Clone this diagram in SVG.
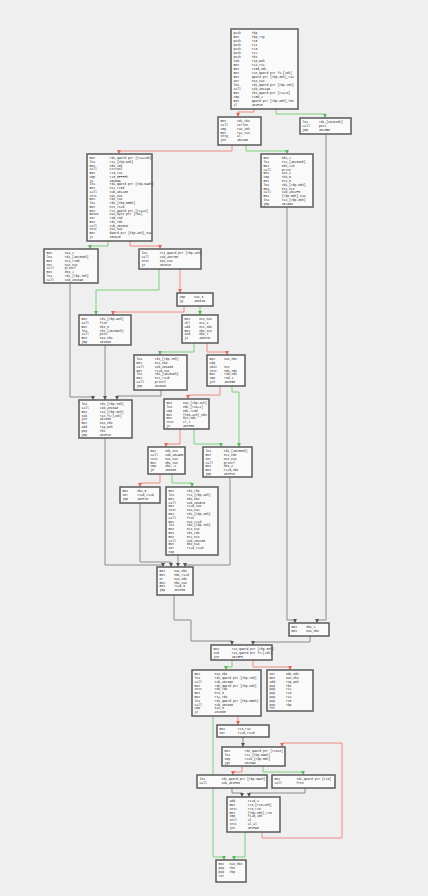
<svg xmlns="http://www.w3.org/2000/svg" width="428" height="896" viewBox="0 0 428 896">
<style>
.bg{fill:#efefef}
.b{fill:#fafafa;stroke:#5a5a5a;stroke-width:1.5}
.c{font-family:"Liberation Mono","DejaVu Sans Mono",monospace;font-size:3.05px;fill:#262626}
.e{fill:none;stroke-width:1}
.g{stroke:#7ccf7c}
.r{stroke:#f08a80}
.k{stroke:#8a8a8a}
</style>
<defs>
<marker id="ag" markerWidth="4" markerHeight="4" refX="4" refY="2" orient="auto" markerUnits="userSpaceOnUse"><path d="M0,0L4,2L0,4z" fill="#5fb85f"/></marker>
<marker id="ar" markerWidth="4" markerHeight="4" refX="4" refY="2" orient="auto" markerUnits="userSpaceOnUse"><path d="M0,0L4,2L0,4z" fill="#e06a60"/></marker>
<marker id="ak" markerWidth="4" markerHeight="4" refX="4" refY="2" orient="auto" markerUnits="userSpaceOnUse"><path d="M0,0L4,2L0,4z" fill="#555"/></marker>
</defs>
<rect class="bg" x="0" y="0" width="428" height="896"/>
<g id="edges">
<polyline class="e r" marker-end="url(#ar)" points="254,109 254,112 238,112 238,117"/>
<polyline class="e g" marker-end="url(#ag)" points="276,109 276,114 325,114 325,118"/>
<polyline class="e r" marker-end="url(#ar)" points="232,145 232,151 119,151 119,154"/>
<polyline class="e g" marker-end="url(#ag)" points="246,145 246,151 287,151 287,154"/>
<polyline class="e g" marker-end="url(#ag)" points="108,241 108,246 90,246 90,249"/>
<polyline class="e r" marker-end="url(#ar)" points="130,241 130,246 160,246 160,249"/>
<polyline class="e g" marker-end="url(#ag)" points="159,269 159,290 96,290 96,315"/>
<polyline class="e r" marker-end="url(#ar)" points="180,269 180,293"/>
<polyline class="e r" marker-end="url(#ar)" points="184,306 184,312 113,312 113,315"/>
<polyline class="e g" marker-end="url(#ag)" points="200,306 200,315"/>
<polyline class="e k" marker-end="url(#ak)" points="70,283 70,397 93,397 93,400"/>
<polyline class="e k" marker-end="url(#ak)" points="105,345 105,400"/>
<polyline class="e k" marker-end="url(#ak)" points="161,390 161,396 117,396 117,400"/>
<polyline class="e g" marker-end="url(#ag)" points="194,343 194,352 160,352 160,355"/>
<polyline class="e r" marker-end="url(#ar)" points="207,343 207,352 227,352 227,355"/>
<polyline class="e r" marker-end="url(#ar)" points="220,386 220,395 188,395 188,399"/>
<polyline class="e g" marker-end="url(#ag)" points="232,386 232,392 239,392 239,447"/>
<polyline class="e r" marker-end="url(#ar)" points="180,429 180,444 166,444 166,447"/>
<polyline class="e g" marker-end="url(#ag)" points="194,429 194,444 221,444 221,447"/>
<polyline class="e r" marker-end="url(#ar)" points="160,474 160,483 140,483 140,487"/>
<polyline class="e g" marker-end="url(#ag)" points="172,474 172,483 192,483 192,487"/>
<polyline class="e k" marker-end="url(#ak)" points="105,438 105,565 163,565 163,567"/>
<polyline class="e k" marker-end="url(#ak)" points="140,503 140,562 171,562 171,567"/>
<polyline class="e k" marker-end="url(#ak)" points="178,555 178,567"/>
<polyline class="e k" marker-end="url(#ak)" points="230,477 230,565 185,565 185,567"/>
<polyline class="e k" marker-end="url(#ak)" points="174,595 174,620 191,620 191,641 232,641 232,645"/>
<polyline class="e k" marker-end="url(#ak)" points="287,207 287,620 295,620 295,623"/>
<polyline class="e k" marker-end="url(#ak)" points="326,134 326,620 317,620 317,623"/>
<polyline class="e k" marker-end="url(#ak)" points="310,636 310,642 253,642 253,645"/>
<polyline class="e g" marker-end="url(#ag)" points="232,660 232,667 226,667 226,670"/>
<polyline class="e r" marker-end="url(#ar)" points="253,660 253,667 290,667 290,670"/>
<polyline class="e g" marker-end="url(#ag)" points="213,716 213,857 224,857 224,860"/>
<polyline class="e r" marker-end="url(#ar)" points="238,716 238,725"/>
<polyline class="e k" marker-end="url(#ak)" points="243,737 243,747"/>
<polyline class="e r" marker-end="url(#ar)" points="262,832 262,838 342,838 342,743 282,743 282,747"/>
<polyline class="e r" marker-end="url(#ar)" points="242,766 242,772 233,772 233,775"/>
<polyline class="e g" marker-end="url(#ag)" points="263,766 263,772 303,772 303,775"/>
<polyline class="e k" marker-end="url(#ak)" points="232,788 232,793 242,793 242,797"/>
<polyline class="e k" marker-end="url(#ak)" points="305,788 305,793 249,793 249,797"/>
<polyline class="e g" marker-end="url(#ag)" points="245,832 245,857 234,857 234,860"/>
</g>
<g id="n1"><rect class="b" x="231" y="29" width="67" height="80"/><text class="c" xml:space="preserve" y="34.2"><tspan x="233.5">push      rbp</tspan><tspan x="233.5" dy="4">mov       rbp,rsp</tspan><tspan x="233.5" dy="4">push      r15</tspan><tspan x="233.5" dy="4">push      r14</tspan><tspan x="233.5" dy="4">push      r13</tspan><tspan x="233.5" dy="4">push      r12</tspan><tspan x="233.5" dy="4">push      rbx</tspan><tspan x="233.5" dy="4">sub       rsp,98h</tspan><tspan x="233.5" dy="4">mov       r14,rsi</tspan><tspan x="233.5" dy="4">mov       r15d,edi</tspan><tspan x="233.5" dy="4">mov       rax,qword ptr fs:[28h]</tspan><tspan x="233.5" dy="4">mov       qword ptr [rbp-38h],rax</tspan><tspan x="233.5" dy="4">xor       eax,eax</tspan><tspan x="233.5" dy="4">lea       rdi,qword ptr [rbp-70h]</tspan><tspan x="233.5" dy="4">call      sub_4012A0</tspan><tspan x="233.5" dy="4">mov       rbx,qword ptr [r14+8]</tspan><tspan x="233.5" dy="4">cmp       r15d,2</tspan><tspan x="233.5" dy="4">mov       qword ptr [rbp-80h],rbx</tspan><tspan x="233.5" dy="4">jl        401F2E</tspan></text></g>
<g id="n2"><rect class="b" x="300" y="118" width="51" height="16"/><text class="c" xml:space="preserve" y="123.2"><tspan x="302.5">lea      rdi,[402010h]</tspan><tspan x="302.5" dy="3.8">call     puts</tspan><tspan x="302.5" dy="3.8">jmp      4023B0</tspan></text></g>
<g id="n3"><rect class="b" x="218" y="117" width="43" height="28"/><text class="c" xml:space="preserve" y="122.2"><tspan x="220.5">mov      rdi,rbx</tspan><tspan x="220.5" dy="3.8">call     strlen</tspan><tspan x="220.5" dy="3.8">cmp      rax,10h</tspan><tspan x="220.5" dy="3.8">mov      r12,rax</tspan><tspan x="220.5" dy="3.8">setg     al</tspan><tspan x="220.5" dy="3.8">jne      401C90</tspan></text></g>
<g id="n4"><rect class="b" x="87" y="154" width="65" height="87"/><text class="c" xml:space="preserve" y="159.2"><tspan x="89.5">mov        rdi,qword ptr [r14+10h]</tspan><tspan x="89.5" dy="3.75">lea        rsi,[rbp-90h]</tspan><tspan x="89.5" dy="3.75">mov        edx,10h</tspan><tspan x="89.5" dy="3.75">call       strtoul</tspan><tspan x="89.5" dy="3.75">mov        r13,rax</tspan><tspan x="89.5" dy="3.75">cmp        r13,0FFFFh</tspan><tspan x="89.5" dy="3.75">ja         401D5A</tspan><tspan x="89.5" dy="3.75">lea        rdi,qword ptr [rbp-0A0h]</tspan><tspan x="89.5" dy="3.75">mov        esi,r13d</tspan><tspan x="89.5" dy="3.75">call       sub_401480</tspan><tspan x="89.5" dy="3.75">test       eax,eax</tspan><tspan x="89.5" dy="3.75">mov        rbx,rax</tspan><tspan x="89.5" dy="3.75">lea        rdx,[rbp-0B0h]</tspan><tspan x="89.5" dy="3.75">mov        ecx,r12d</tspan><tspan x="89.5" dy="3.75">mov        rsi,qword ptr [r14+8]</tspan><tspan x="89.5" dy="3.75">movzx      eax,byte ptr [rbx]</tspan><tspan x="89.5" dy="3.75">xor        r8d,r8d</tspan><tspan x="89.5" dy="3.75">mov        rdi,rdx</tspan><tspan x="89.5" dy="3.75">call       sub_4015C0</tspan><tspan x="89.5" dy="3.75">test       eax,eax</tspan><tspan x="89.5" dy="3.75">mov        dword ptr [rbp-48h],eax</tspan><tspan x="89.5" dy="3.75">js         401D20</tspan></text></g>
<g id="n5"><rect class="b" x="261" y="154" width="52" height="53"/><text class="c" xml:space="preserve" y="159.2"><tspan x="263.5">mov       edi,2</tspan><tspan x="263.5" dy="3.8">lea       rsi,[402040h]</tspan><tspan x="263.5" dy="3.8">mov       edx,21h</tspan><tspan x="263.5" dy="3.8">call      write</tspan><tspan x="263.5" dy="3.8">mov       eax,1</tspan><tspan x="263.5" dy="3.8">cmp       rbx,0</tspan><tspan x="263.5" dy="3.8">mov       ecx,0</tspan><tspan x="263.5" dy="3.8">lea       rdi,[rbp-60h]</tspan><tspan x="263.5" dy="3.8">mov       esi,ecx</tspan><tspan x="263.5" dy="3.8">call      sub_4012F0</tspan><tspan x="263.5" dy="3.8">mov       [rbp-50h],eax</tspan><tspan x="263.5" dy="3.8">lea       rax,[rbp-60h]</tspan><tspan x="263.5" dy="3.8">jmp       402390</tspan></text></g>
<g id="n6"><rect class="b" x="44" y="249" width="54" height="34"/><text class="c" xml:space="preserve" y="254.2"><tspan x="46.5">mov       eax,1</tspan><tspan x="46.5" dy="3.8">lea       rdi,[402080h]</tspan><tspan x="46.5" dy="3.8">mov       esi,r13d</tspan><tspan x="46.5" dy="3.8">xor       eax,eax</tspan><tspan x="46.5" dy="3.8">call      printf</tspan><tspan x="46.5" dy="3.8">mov       ebx,2</tspan><tspan x="46.5" dy="3.8">lea       rdi,[rbp-70h]</tspan><tspan x="46.5" dy="3.8">call      sub_4013A0</tspan></text></g>
<g id="n7"><rect class="b" x="139" y="249" width="62" height="20"/><text class="c" xml:space="preserve" y="254.2"><tspan x="141.5">lea       rsi,qword ptr [rbp-48h]</tspan><tspan x="141.5" dy="3.8">call      sub_401700</tspan><tspan x="141.5" dy="3.8">test      eax,eax</tspan><tspan x="141.5" dy="3.8">jz        401E10</tspan></text></g>
<g id="n8"><rect class="b" x="177" y="293" width="36" height="13"/><text class="c" xml:space="preserve" y="298.2"><tspan x="179.5">cmp     eax,3</tspan><tspan x="179.5" dy="3.8">jg      401E40</tspan></text></g>
<g id="n9"><rect class="b" x="79" y="315" width="52" height="30"/><text class="c" xml:space="preserve" y="320.2"><tspan x="81.5">mov       rdi,[rbp-98h]</tspan><tspan x="81.5" dy="3.8">call      free</tspan><tspan x="81.5" dy="3.8">mov       ebx,3</tspan><tspan x="81.5" dy="3.8">lea       rdi,[402098h]</tspan><tspan x="81.5" dy="3.8">call      puts</tspan><tspan x="81.5" dy="3.8">mov       eax,ebx</tspan><tspan x="81.5" dy="3.8">jmp       401E90</tspan></text></g>
<g id="n10"><rect class="b" x="182" y="315" width="36" height="28"/><text class="c" xml:space="preserve" y="320.2"><tspan x="184.5">mov     ecx,eax</tspan><tspan x="184.5" dy="3.8">shl     ecx,4</tspan><tspan x="184.5" dy="3.8">add     ecx,edx</tspan><tspan x="184.5" dy="3.8">mov     ebx,ecx</tspan><tspan x="184.5" dy="3.8">and     ebx,7</tspan><tspan x="184.5" dy="3.8">jz      401E70</tspan></text></g>
<g id="n11"><rect class="b" x="134" y="355" width="53" height="35"/><text class="c" xml:space="preserve" y="360.2"><tspan x="136.5">lea       rdi,[rbp-70h]</tspan><tspan x="136.5" dy="3.8">mov       esi,ebx</tspan><tspan x="136.5" dy="3.8">call      sub_401900</tspan><tspan x="136.5" dy="3.8">mov       r12d,eax</tspan><tspan x="136.5" dy="3.8">lea       rdi,[4020C0h]</tspan><tspan x="136.5" dy="3.8">mov       esi,r12d</tspan><tspan x="136.5" dy="3.8">call      printf</tspan><tspan x="136.5" dy="3.8">jmp       401E90</tspan></text></g>
<g id="n12"><rect class="b" x="207" y="355" width="38" height="31"/><text class="c" xml:space="preserve" y="360.2"><tspan x="209.5">mov     eax,ebx</tspan><tspan x="209.5" dy="3.8">cdq</tspan><tspan x="209.5" dy="3.8">idiv    ecx</tspan><tspan x="209.5" dy="3.8">test    edx,edx</tspan><tspan x="209.5" dy="3.8">mov     r8d,edx</tspan><tspan x="209.5" dy="3.8">cmp     r8d,1</tspan><tspan x="209.5" dy="3.8">jne     401EB0</tspan></text></g>
<g id="n13"><rect class="b" x="79" y="400" width="53" height="38"/><text class="c" xml:space="preserve" y="405.2"><tspan x="81.5">lea       rdi,[rbp-70h]</tspan><tspan x="81.5" dy="3.8">call      sub_4013A0</tspan><tspan x="81.5" dy="3.8">mov       rax,[rbp-38h]</tspan><tspan x="81.5" dy="3.8">sub       rax,fs:[28h]</tspan><tspan x="81.5" dy="3.8">jne       402400</tspan><tspan x="81.5" dy="3.8">mov       eax,ebx</tspan><tspan x="81.5" dy="3.8">add       rsp,98h</tspan><tspan x="81.5" dy="3.8">pop       rbx</tspan><tspan x="81.5" dy="3.8">jmp       401F10</tspan></text></g>
<g id="n14"><rect class="b" x="164" y="399" width="45" height="30"/><text class="c" xml:space="preserve" y="404.2"><tspan x="166.5">mov      eax,[rbp-4Ch]</tspan><tspan x="166.5" dy="3.8">lea      edx,[rax+1]</tspan><tspan x="166.5" dy="3.8">cmp      edx,r13d</tspan><tspan x="166.5" dy="3.8">mov      [rbp-4Ch],edx</tspan><tspan x="166.5" dy="3.8">mov      ecx,edx</tspan><tspan x="166.5" dy="3.8">test     cl,1</tspan><tspan x="166.5" dy="3.8">jz       401F00</tspan></text></g>
<g id="n15"><rect class="b" x="148" y="447" width="37" height="27"/><text class="c" xml:space="preserve" y="452.2"><tspan x="150.5">mov     edi,ecx</tspan><tspan x="150.5" dy="3.8">call    sub_401A00</tspan><tspan x="150.5" dy="3.8">test    eax,eax</tspan><tspan x="150.5" dy="3.8">mov     ebx,eax</tspan><tspan x="150.5" dy="3.8">cmp     ebx,-1</tspan><tspan x="150.5" dy="3.8">je      401EE0</tspan></text></g>
<g id="n16"><rect class="b" x="203" y="447" width="49" height="30"/><text class="c" xml:space="preserve" y="452.2"><tspan x="205.5">lea       rdi,[4020E0h]</tspan><tspan x="205.5" dy="3.8">mov       esi,edx</tspan><tspan x="205.5" dy="3.8">xor       eax,eax</tspan><tspan x="205.5" dy="3.8">call      printf</tspan><tspan x="205.5" dy="3.8">mov       ebx,4</tspan><tspan x="205.5" dy="3.8">mov       r12d,ebx</tspan><tspan x="205.5" dy="3.8">jmp       401F10</tspan></text></g>
<g id="n17"><rect class="b" x="120" y="487" width="40" height="16"/><text class="c" xml:space="preserve" y="492.2"><tspan x="122.5">mov     ebx,5</tspan><tspan x="122.5" dy="3.8">xor     r12d,r12d</tspan><tspan x="122.5" dy="3.8">jmp     401F10</tspan></text></g>
<g id="n18"><rect class="b" x="166" y="487" width="52" height="68"/><text class="c" xml:space="preserve" y="492.2"><tspan x="168.5">mov       rdi,rbx</tspan><tspan x="168.5" dy="3.8">lea       rsi,[rbp-40h]</tspan><tspan x="168.5" dy="3.8">mov       edx,ebx</tspan><tspan x="168.5" dy="3.8">call      sub_401B20</tspan><tspan x="168.5" dy="3.8">mov       r12d,eax</tspan><tspan x="168.5" dy="3.8">test      eax,eax</tspan><tspan x="168.5" dy="3.8">mov       rdi,[rbp-40h]</tspan><tspan x="168.5" dy="3.8">call      free</tspan><tspan x="168.5" dy="3.8">mov       eax,r12d</tspan><tspan x="168.5" dy="3.8">lea       rdx,[rbp-70h]</tspan><tspan x="168.5" dy="3.8">mov       ecx,eax</tspan><tspan x="168.5" dy="3.8">mov       rdi,rdx</tspan><tspan x="168.5" dy="3.8">mov       esi,ecx</tspan><tspan x="168.5" dy="3.8">call      sub_401C00</tspan><tspan x="168.5" dy="3.8">mov       ebx,eax</tspan><tspan x="168.5" dy="3.8">xor       r12d,r12d</tspan><tspan x="168.5" dy="3.8">nop</tspan></text></g>
<g id="n19"><rect class="b" x="157" y="567" width="36" height="28"/><text class="c" xml:space="preserve" y="572.2"><tspan x="159.5">mov     eax,ebx</tspan><tspan x="159.5" dy="3.8">mov     edx,r12d</tspan><tspan x="159.5" dy="3.8">or      eax,edx</tspan><tspan x="159.5" dy="3.8">mov     ebx,eax</tspan><tspan x="159.5" dy="3.8">mov     r12d,0</tspan><tspan x="159.5" dy="3.8">jmp     402380</tspan></text></g>
<g id="n20"><rect class="b" x="289" y="623" width="40" height="13"/><text class="c" xml:space="preserve" y="628.2"><tspan x="291.5">mov     ebx,1</tspan><tspan x="291.5" dy="3.8">mov     eax,ebx</tspan></text></g>
<g id="n21"><rect class="b" x="211" y="645" width="61" height="15"/><text class="c" xml:space="preserve" y="650.2"><tspan x="213.5">mov       rax,qword ptr [rbp-38h]</tspan><tspan x="213.5" dy="3.8">sub       rax,qword ptr fs:[28h]</tspan><tspan x="213.5" dy="3.8">jne       4023F0</tspan></text></g>
<g id="n22"><rect class="b" x="192" y="670" width="69" height="46"/><text class="c" xml:space="preserve" y="675.2"><tspan x="194.5">mov        eax,ebx</tspan><tspan x="194.5" dy="3.8">lea        rdi,qword ptr [rbp-70h]</tspan><tspan x="194.5" dy="3.8">call       sub_4013A0</tspan><tspan x="194.5" dy="3.8">mov        rdx,qword ptr [rbp-80h]</tspan><tspan x="194.5" dy="3.8">test       rdx,rdx</tspan><tspan x="194.5" dy="3.8">mov        ecx,0</tspan><tspan x="194.5" dy="3.8">mov        rsi,rdx</tspan><tspan x="194.5" dy="3.8">lea        rdi,qword ptr [rbp-0B8h]</tspan><tspan x="194.5" dy="3.8">call       sub_401D80</tspan><tspan x="194.5" dy="3.8">cmp        eax,0</tspan><tspan x="194.5" dy="3.8">jz         4023D0</tspan></text></g>
<g id="n23"><rect class="b" x="267" y="670" width="46" height="41"/><text class="c" xml:space="preserve" y="675.2"><tspan x="269.5">xor      edx,edx</tspan><tspan x="269.5" dy="3.8">mov      eax,ebx</tspan><tspan x="269.5" dy="3.8">add      rsp,98h</tspan><tspan x="269.5" dy="3.8">pop      rbx</tspan><tspan x="269.5" dy="3.8">pop      r12</tspan><tspan x="269.5" dy="3.8">pop      r13</tspan><tspan x="269.5" dy="3.8">pop      r14</tspan><tspan x="269.5" dy="3.8">pop      r15</tspan><tspan x="269.5" dy="3.8">pop      rbp</tspan><tspan x="269.5" dy="3.8">ret</tspan></text></g>
<g id="n24"><rect class="b" x="217" y="725" width="52" height="12"/><text class="c" xml:space="preserve" y="730.2"><tspan x="219.5">mov       r13,rax</tspan><tspan x="219.5" dy="3.8">xor       r12d,r12d</tspan></text></g>
<g id="n25"><rect class="b" x="222" y="747" width="63" height="19"/><text class="c" xml:space="preserve" y="752.2"><tspan x="224.5">mov        rdi,qword ptr [r13+8]</tspan><tspan x="224.5" dy="3.8">lea        rsi,[rbp-0A8h]</tspan><tspan x="224.5" dy="3.8">cmp        r12d,[rbp-50h]</tspan><tspan x="224.5" dy="3.8">jge        4023A0</tspan></text></g>
<g id="n26"><rect class="b" x="197" y="775" width="70" height="13"/><text class="c" xml:space="preserve" y="780.2"><tspan x="199.5">lea         rdi,qword ptr [rbp-0A8h]</tspan><tspan x="199.5" dy="3.8">call        sub_401F60</tspan></text></g>
<g id="n27"><rect class="b" x="272" y="775" width="63" height="13"/><text class="c" xml:space="preserve" y="780.2"><tspan x="274.5">mov         rdi,qword ptr [r13]</tspan><tspan x="274.5" dy="3.8">call        free</tspan></text></g>
<g id="n28"><rect class="b" x="227" y="797" width="53" height="35"/><text class="c" xml:space="preserve" y="802.2"><tspan x="229.5">add       r12d,1</tspan><tspan x="229.5" dy="3.8">mov       r13,[r13+10h]</tspan><tspan x="229.5" dy="3.8">test      r13,r13</tspan><tspan x="229.5" dy="3.8">mov       [rbp-80h],r13</tspan><tspan x="229.5" dy="3.8">cmp       r12d,10h</tspan><tspan x="229.5" dy="3.8">setl      al</tspan><tspan x="229.5" dy="3.8">test      al,al</tspan><tspan x="229.5" dy="3.8">jnz       401FA0</tspan></text></g>
<g id="n29"><rect class="b" x="216" y="860" width="30" height="22"/><text class="c" xml:space="preserve" y="865.2"><tspan x="218.5">mov   eax,ebx</tspan><tspan x="218.5" dy="3.8">pop   rbx</tspan><tspan x="218.5" dy="3.8">pop   rbp</tspan><tspan x="218.5" dy="3.8">ret</tspan></text></g>
</svg>
